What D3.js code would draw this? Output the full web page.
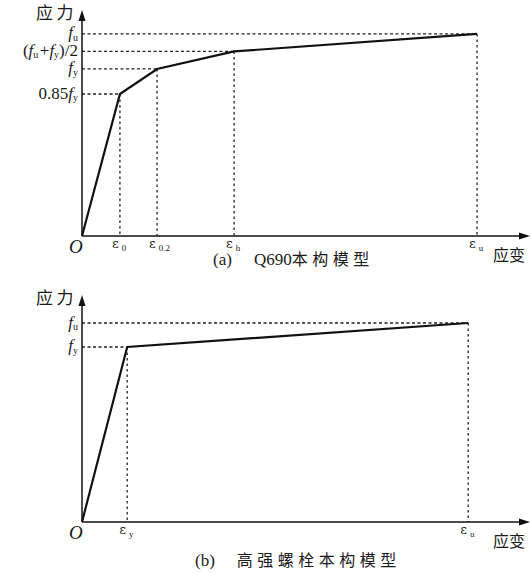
<!DOCTYPE html>
<html>
<head>
<meta charset="utf-8">
<script src="https://cdn.jsdelivr.net/npm/d3@7"></script>
<style>
  body { margin: 0; background: #fff; }
  svg text { font-family: "Liberation Serif", "Times New Roman", serif; fill: #1a1a1a; }
  .cjk { font-family: "Noto Sans CJK SC", sans-serif; }
</style>
</head>
<body>
<svg id="chart" width="531" height="573"></svg>
<script>
// (a) Q690 model: strain (relative to eps_u) and stress (relative to f_y)
var strainA = [0, 0.096, 0.19, 0.385, 1.0];
var stressA = [0, 0.85, 1.0, 1.105, 1.21];
var strainLabelsA = [["ε", "0"], ["ε", "0.2"], ["ε", "h"], ["ε", "u"]];
// label parts: 0 = plain, 1 = italic, 2 = subscript
var stressLabelsA = [
    [["0.85", 0], ["f", 1], ["y", 2]],
    [["f", 1], ["y", 2]],
    [["(", 0], ["f", 1], ["u", 2], ["+", 0], ["f", 1], ["y", 2], [")/2", 0]],
    [["f", 1], ["u", 2]]
];
// (b) high strength bolt model
var strainB = [0, 0.117, 1.0];
var stressB = [0, 1.0, 1.137];
var strainLabelsB = [["ε", "y"], ["ε", "u"]];
var stressLabelsB = [
    [["f", 1], ["y", 2]],
    [["f", 1], ["u", 2]]
];

var svg = d3.select("#chart");

var panels = [
    {
        strain: strainA, stress: stressA, xl: strainLabelsA, yl: stressLabelsA,
        x: d3.scaleLinear().domain([0, 1.134]).range([82, 530]),
        y: d3.scaleLinear().domain([0, 1.353]).range([236, 10]),
        tag: "(a)", latin: "Q690", cjk: "本构模型", capX: 213, capY: 265
    },
    {
        strain: strainB, stress: stressB, xl: strainLabelsB, yl: stressLabelsB,
        x: d3.scaleLinear().domain([0, 1.16]).range([82, 530]),
        y: d3.scaleLinear().domain([0, 1.297]).range([522, 295]),
        tag: "(b)", latin: "", cjk: "高强螺栓本构模型", capX: 195, capY: 566
    }
];

panels.forEach(drawPanel);

function drawPanel(p) {
    var g = svg.append("g");
    var x = p.x, y = p.y;
    var x0 = x(0), y0 = y(0);
    var xEnd = x.range()[1], yTop = y.range()[1];
    var pts = p.strain.map((s, i) => ({s: s, f: p.stress[i]}));
    var marks = pts.slice(1);

    // dashed guide lines
    g.selectAll("line.h").data(marks).enter().append("line")
        .attr("x1", x0).attr("x2", d => x(d.s))
        .attr("y1", d => y(d.f)).attr("y2", d => y(d.f))
        .attr("stroke", "#222").attr("stroke-width", 1.3)
        .attr("stroke-dasharray", "3,2.5");
    g.selectAll("line.v").data(marks).enter().append("line")
        .attr("x1", d => x(d.s)).attr("x2", d => x(d.s))
        .attr("y1", d => y(d.f)).attr("y2", y0)
        .attr("stroke", "#222").attr("stroke-width", 1.3)
        .attr("stroke-dasharray", "2.5,3");

    // axes with arrow heads
    g.append("line").attr("x1", x0).attr("x2", xEnd - 6).attr("y1", y0).attr("y2", y0)
        .attr("stroke", "#111").attr("stroke-width", 1.5);
    g.append("line").attr("x1", x0).attr("x2", x0).attr("y1", y0).attr("y2", yTop + 6)
        .attr("stroke", "#111").attr("stroke-width", 1.5);
    g.append("path").attr("d", `M${xEnd},${y0} L${xEnd - 11},${y0 - 3.5} L${xEnd - 11},${y0 + 3.5}Z`).attr("fill", "#111");
    g.append("path").attr("d", `M${x0},${yTop} L${x0 - 3.5},${yTop + 11} L${x0 + 3.5},${yTop + 11}Z`).attr("fill", "#111");

    // curve
    g.append("path").datum(pts)
        .attr("d", d3.line().x(d => x(d.s)).y(d => y(d.f)))
        .attr("fill", "none").attr("stroke", "#111").attr("stroke-width", 2.2);

    // stress labels
    marks.forEach((d, i) => {
        var t = g.append("text").attr("x", x0 - 4).attr("y", y(d.f) + 4.5)
            .attr("text-anchor", "end").attr("font-size", 17);
        var lowered = false;
        p.yl[i].forEach(part => {
            var ts = t.append("tspan").text(part[0]);
            if (part[1] == 2) {
                ts.attr("font-size", 10).attr("dy", 2.5);
                lowered = true;
            } else {
                if (part[1] == 1) ts.attr("font-style", "italic");
                if (lowered) { ts.attr("dy", -2.5); lowered = false; }
                if (part[0] == "+") ts.attr("dx", 1.5);
            }
        });
    });

    // strain labels
    marks.forEach((d, i) => {
        var t = g.append("text").attr("x", x(d.s) - 8).attr("y", y0 + 12)
            .attr("font-size", 15);
        t.append("tspan").text(p.xl[i][0]).attr("font-family", "DejaVu Serif").attr("font-size", 13);
        t.append("tspan").text(p.xl[i][1]).attr("font-size", 9).attr("dx", 3).attr("dy", 3);
    });

    g.append("text").attr("x", x0 - 13).attr("y", y0 + 17).attr("font-size", 19)
        .attr("font-style", "italic").text("O");
    g.append("text").attr("class", "cjk").attr("x", 36).attr("y", yTop + 9)
        .attr("font-size", 17).attr("letter-spacing", 3.5).text("应力");
    g.append("text").attr("class", "cjk").attr("x", 493).attr("y", y0 + 25)
        .attr("font-size", 16).text("应变");

    // caption
    var cap = g.append("text").attr("x", p.capX).attr("y", p.capY).attr("font-size", 17);
    cap.append("tspan").text(p.tag);
    if (p.latin) cap.append("tspan").attr("dx", 22).text(p.latin);
    cap.append("tspan").attr("class", "cjk").attr("dx", p.latin ? 0 : 22)
        .attr("font-size", 16).attr("letter-spacing", 4.5).text(p.cjk);
}
</script>
</body>
</html>
